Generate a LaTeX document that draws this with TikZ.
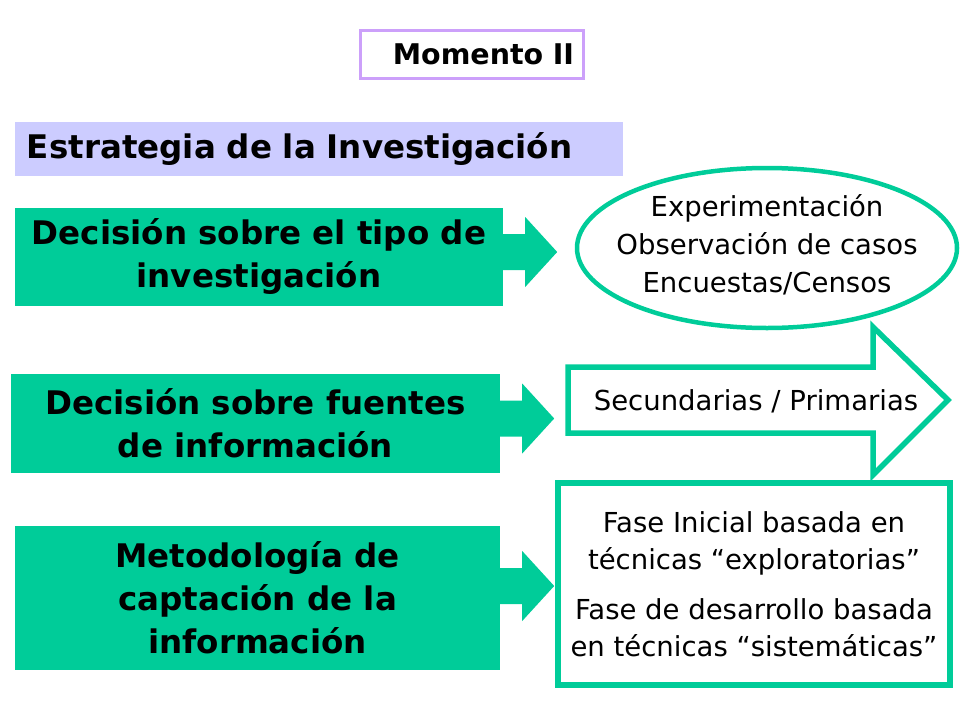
\documentclass[tikz,border=0pt]{standalone}
\usepackage{fontspec}
\setmainfont{DejaVu Sans}
\usetikzlibrary{shapes.geometric}

\definecolor{verde}{RGB}{0,204,153}
\definecolor{lila}{RGB}{204,160,250}
\definecolor{lavanda}{RGB}{204,204,255}

% fat green arrow leaving the east side of a node (#2 = shift upwards)
\newcommand{\flechaverde}[2]{%
    \fill[verde] ([yshift=#2]#1.east) ++(0,-18) -- ++(22,0) -- ++(0,-17) -- ++(32,35)
        -- ++(-32,35) -- ++(0,-17) -- ++(-22,0) -- cycle;}

\begin{document}
\begin{tikzpicture}[
    x=1pt, y=-1pt, % pixel-like coordinates, y grows downwards
    every node/.style={
        align=center, % Center text within nodes
        inner sep=0pt
    },
    caja/.style={
        fill=verde, % green boxes on the left
        font=\fontsize{32.5}{43}\selectfont\bfseries
    },
    contorno/.style={
        draw=verde, % green outline, white inside
        line width=5.5pt
    },
    texto/.style={
        font=\fontsize{27.5}{38}\selectfont
    }
]
\useasboundingbox (0,0) rectangle (960,720);

% titles
\node[draw=lila, line width=3pt, minimum width=223pt, minimum height=48pt,
    text width=205pt, align=right, font=\fontsize{28.5}{30}\selectfont\bfseries]
    (momento) at (471.5,54) {Momento II};
\node[fill=lavanda, minimum width=608pt, minimum height=54pt, text width=584pt,
    align=left, font=\fontsize{32.5}{36}\selectfont\bfseries]
    (estrategia) at (319,149) {Estrategia de la Investigación};

% left column
\node[caja, minimum width=488pt, minimum height=98pt] (tipo) at (259,257)
    {Decisión sobre el tipo de\\investigación};
\node[caja, minimum width=489pt, minimum height=99pt] (fuentes) at (255.5,423.5)
    {Decisión sobre fuentes\\de información};
\node[caja, minimum width=485pt, minimum height=144pt] (captacion) at (257.5,598)
    {Metodología de\\captación de la\\información};

\flechaverde{tipo}{5pt}
\flechaverde{fuentes}{5pt}
\flechaverde{captacion}{12pt}

% right column
\node[ellipse, contorno, line width=4.5pt, minimum width=380pt, minimum height=160pt]
    (tiposres) at (767,248) {};
\node[texto] at ([yshift=3pt]tiposres.center) {Experimentación\\Observación de casos\\Encuestas/Censos};

\draw[contorno, line join=miter] (568,367) -- (873,367) -- (873,327) -- (948,400)
    -- (873,475) -- (873,433) -- (568,433) -- cycle;
\node[texto] (fuentesres) at (756,401) {Secundarias / Primarias};

\node[contorno, minimum width=392pt, minimum height=202pt] (captres) at (754,584) {};
\node[texto, font=\fontsize{27.5}{37}\selectfont] at (captres)
    {Fase Inicial basada en\\técnicas “exploratorias”\\[13pt]Fase de desarrollo basada\\en técnicas “sistemáticas”};
\end{tikzpicture}
\end{document}
